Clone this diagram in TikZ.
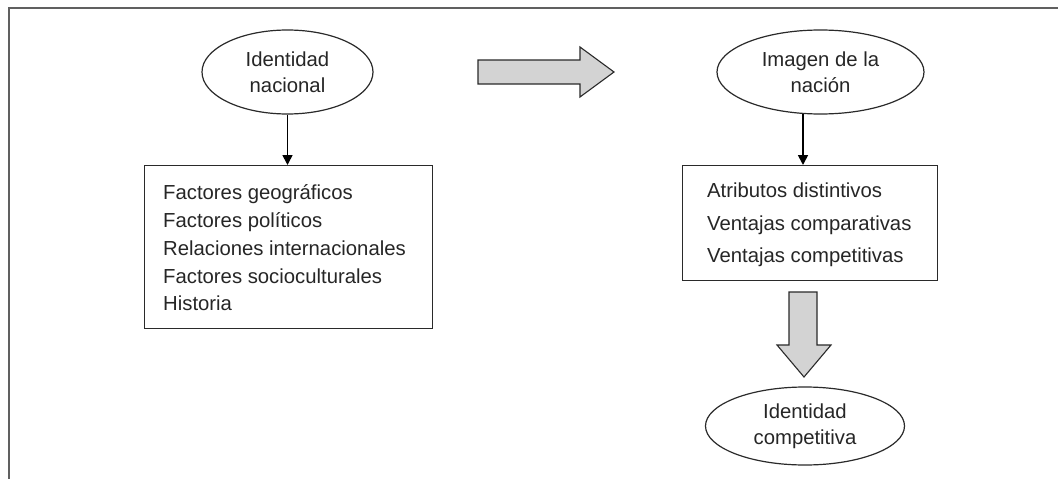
\documentclass[tikz,border=0pt]{standalone}
\usepackage{fontspec}
\setmainfont{Liberation Sans}
\usetikzlibrary{shapes.geometric,arrows.meta}
\definecolor{framecol}{HTML}{606060}
\definecolor{linecol}{HTML}{2A2A2A}
\definecolor{txtcol}{HTML}{262626}
\definecolor{blockfill}{HTML}{D3D3D3}
\tikzset{
  oval/.style={ellipse, draw=linecol, line width=1.2pt, inner sep=0pt, text=txtcol, align=center,
    font=\fontsize{20.3}{26}\selectfont},
  listbox/.style={draw=linecol, line width=1.2pt, anchor=north west, inner sep=0pt},
  listtext/.style={anchor=west, inner sep=0pt, text=txtcol, align=left},
  conn/.style={draw=black, line width=1.7pt, -{Triangle[length=10pt,width=10pt]}},
  block/.style={fill=blockfill, draw=linecol, line width=1.1pt, line join=miter}
}
\begin{document}
\begin{tikzpicture}[x=1pt,y=-1pt]
\useasboundingbox (0,0) rectangle (1058,479);
\fill[white] (0,0) rectangle (1058,479);
% outer frame (top and left only)
\draw[framecol, line width=1.8pt] (9,479) -- (9,8) -- (1058,8);

% left column
\node[oval, minimum width=171pt, minimum height=84pt] (idn) at (287.5,72) {Identidad\\nacional};
\node[listbox, minimum width=288pt, minimum height=163pt] (fac) at (144,165) {};
\node[listtext, font=\fontsize{20.3}{27.7}\selectfont] (factxt) at (163,248)
  {Factores geográficos\\Factores políticos\\Relaciones internacionales\\Factores socioculturales\\Historia};
\draw[conn] (idn.south) -- (idn.south |- fac.north);

% right column
\node[oval, minimum width=207pt, minimum height=84pt] (img) at (820.5,72) {Imagen de la\\nación};
\node[listbox, minimum width=255pt, minimum height=115pt] (atr) at (682,165) {};
\node[listtext, font=\fontsize{20.3}{32.5}\selectfont] (atrtxt) at (707,225)
  {Atributos distintivos\\Ventajas comparativas\\Ventajas competitivas};
\coordinate (imgout) at (803,114);
\draw[conn] (imgout) -- (imgout |- atr.north);

\node[oval, minimum width=199pt, minimum height=78pt] (idc) at (805,426) {Identidad\\competitiva};

% block arrows
\draw[block] (478,60) -- (580,60) -- (580,47) -- (614,72) -- (580,97) -- (580,84) -- (478,84) -- cycle;
\draw[block] (789,292) -- (817,292) -- (817,345) -- (831,345) -- (804,377) -- (777,345) -- (789,345) -- cycle;
\end{tikzpicture}
\end{document}
